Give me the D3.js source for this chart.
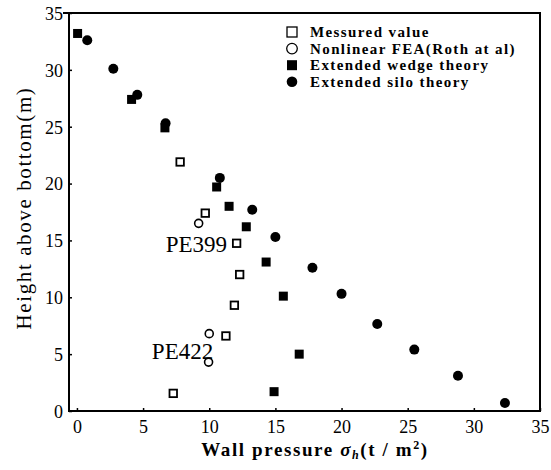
<!DOCTYPE html>
<html>
<head>
<meta charset="utf-8">
<script src="https://cdn.jsdelivr.net/npm/d3@7"></script>
<style>
  body { margin: 0; background: #fff; }
  svg { display: block; }
  .tick text { font-family: "Liberation Serif", "DejaVu Serif", serif; font-size: 18px; fill: #000; }
  .tick line { stroke: #000; stroke-width: 1.5; }
</style>
</head>
<body>
<svg id="chart" width="551" height="470"></svg>
<script>
  // Data: [wall pressure (t/m2), height (m)]
  const measured = [[7.8, 21.9], [9.7, 17.4], [12.07, 14.75], [12.3, 12.0], [11.9, 9.3], [11.26, 6.6], [7.28, 1.55]];
  const nonlinearFEA = [[9.2, 16.5], [10.0, 6.8], [9.95, 4.3]];
  const wedgeTheory = [[0.05, 33.2], [4.13, 27.4], [6.65, 24.9], [10.56, 19.7], [11.5, 18.0], [12.8, 16.2],
                       [14.3, 13.1], [15.6, 10.1], [16.8, 5.0], [14.9, 1.7]];
  const siloTheory = [[0.78, 32.6], [2.75, 30.1], [4.56, 27.8], [6.7, 25.3], [10.8, 20.5], [13.25, 17.7],
                      [15.0, 15.3], [17.8, 12.6], [20.0, 10.3], [22.7, 7.65], [25.5, 5.4], [28.8, 3.1], [32.35, 0.7]];
  const xTicks = [0, 5, 10, 15, 20, 25, 30, 35];
  const yTicks = [0, 5, 10, 15, 20, 25, 30, 35];
  const legendItems = [
    { label: "Messured value", shape: "square", filled: false },
    { label: "Nonlinear FEA(Roth at al)", shape: "circle", filled: false },
    { label: "Extended wedge theory", shape: "square", filled: true },
    { label: "Extended silo theory", shape: "circle", filled: true }
  ];
  // labels are right-aligned at (x, y)
  const annotations = [
    { label: "PE399", x: 11.35, y: 14.7 },
    { label: "PE422", x: 10.3, y: 5.3 }
  ];

  const serif = '"Liberation Serif", "DejaVu Serif", serif';
  const svg = d3.select("#chart");

  const x = d3.scaleLinear().domain([-0.6, 35]).range([69, 540]);
  const y = d3.scaleLinear().domain([0, 35]).range([411, 13]);

  // Axes (ticks point inward)
  svg.append("g")
    .attr("transform", "translate(0,411)")
    .call(d3.axisBottom(x).tickValues(xTicks).tickSize(-3).tickPadding(9))
    .call(g => g.select(".domain").remove());

  svg.append("g")
    .attr("transform", "translate(69,0)")
    .call(d3.axisLeft(y).tickValues(yTicks).tickSize(-3).tickPadding(6))
    .call(g => g.select(".domain").remove())
    .call(g => g.selectAll(".tick text").attr("dy", "0.35em"));

  // Frame
  svg.append("path")
    .attr("d", `M63,${y(35)}H${x(35)}V${y(0)}H${x(-0.6)}V${y(35)}`)
    .attr("fill", "none")
    .attr("stroke", "#000")
    .attr("stroke-width", 2);

  function drawMarks(data, shape, filled) {
    const g = svg.append("g");
    if (shape === "square") {
      const s = filled ? 9 : 7.5;
      g.selectAll("rect").data(data).join("rect")
        .attr("x", d => x(d[0]) - s / 2)
        .attr("y", d => y(d[1]) - s / 2)
        .attr("width", s).attr("height", s)
        .attr("fill", filled ? "#000" : "#fff")
        .attr("stroke", "#000")
        .attr("stroke-width", filled ? 0 : 1.8);
    } else {
      g.selectAll("circle").data(data).join("circle")
        .attr("cx", d => x(d[0]))
        .attr("cy", d => y(d[1]))
        .attr("r", filled ? 5 : 4)
        .attr("fill", filled ? "#000" : "#fff")
        .attr("stroke", "#000")
        .attr("stroke-width", filled ? 0 : 1.6);
    }
  }

  drawMarks(wedgeTheory, "square", true);
  drawMarks(siloTheory, "circle", true);
  drawMarks(measured, "square", false);
  drawMarks(nonlinearFEA, "circle", false);

  // Point labels
  svg.selectAll(".anno").data(annotations).join("text")
    .attr("class", "anno")
    .attr("x", d => x(d.x))
    .attr("y", d => y(d.y))
    .attr("dy", "0.35em")
    .attr("text-anchor", "end")
    .attr("font-family", serif)
    .attr("font-size", 23)
    .text(d => d.label);

  // Legend
  const legend = svg.append("g").attr("transform", "translate(292,32)");
  const row = legend.selectAll("g").data(legendItems).join("g")
    .attr("transform", (d, i) => `translate(0,${i * 16.6})`);
  row.each(function (d) {
    const r = d3.select(this);
    if (d.shape === "square") {
      r.append("rect")
        .attr("x", -5).attr("y", -5).attr("width", 10).attr("height", 10)
        .attr("fill", d.filled ? "#000" : "#fff")
        .attr("stroke", "#000").attr("stroke-width", d.filled ? 0 : 1.3);
    } else {
      r.append("circle").attr("r", 5.3)
        .attr("fill", d.filled ? "#000" : "#fff")
        .attr("stroke", "#000").attr("stroke-width", d.filled ? 0 : 1.3);
    }
  });
  row.append("text")
    .attr("x", 18)
    .attr("dy", "0.35em")
    .attr("font-family", serif)
    .attr("font-weight", "bold")
    .attr("font-size", 15)
    .attr("letter-spacing", 1.4)
    .text(d => d.label);

  // Axis titles
  const xt = svg.append("text")
    .attr("x", 315).attr("y", 456)
    .attr("text-anchor", "middle")
    .attr("font-family", serif)
    .attr("font-weight", "bold")
    .attr("font-size", 19)
    .attr("letter-spacing", 1.6);
  xt.append("tspan").text("Wall pressure ");
  xt.append("tspan").attr("font-style", "italic").text("σ");
  xt.append("tspan").attr("font-style", "italic").attr("font-size", 12).attr("dy", 3).text("h");
  xt.append("tspan").attr("dy", -3).text("(t / m");
  xt.append("tspan").attr("font-size", 12).attr("dy", -7).text("2");
  xt.append("tspan").attr("dy", 7).text(")");

  svg.append("text")
    .attr("transform", "translate(31,208) rotate(-90)")
    .attr("text-anchor", "middle")
    .attr("font-family", serif)
    .attr("font-size", 21)
    .attr("letter-spacing", 1.6)
    .text("Height above bottom(m)");
</script>
</body>
</html>
